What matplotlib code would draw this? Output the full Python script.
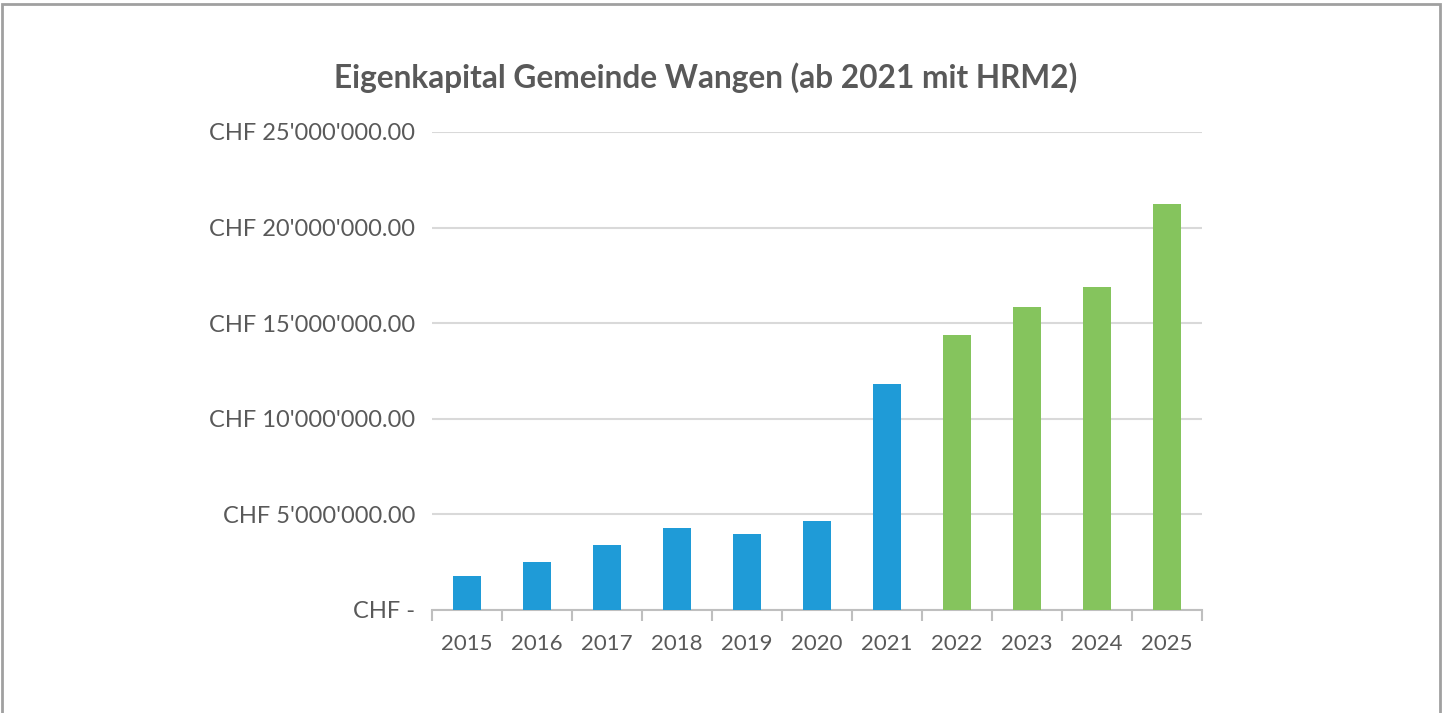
import matplotlib.pyplot as plt
import matplotlib.patches as patches
from matplotlib.ticker import FuncFormatter
import numpy as np

# -----------------------------
# Data
# -----------------------------
jahre = ["2015", "2016", "2017", "2018", "2019", "2020", "2021",
         "2022", "2023", "2024", "2025"]
eigenkapital = [1780000, 2510000, 3400000, 4290000, 3970000, 4650000,
                11820000, 14380000, 15850000, 16890000, 21230000]
farben = ["#1F9BD7"] * 7 + ["#85C45D"] * 4
y_ticks = [0, 5000000, 10000000, 15000000, 20000000, 25000000]

plt.rcParams["font.family"] = ["Lato", "DejaVu Sans"]


def chf(v, pos=None):
    if v == 0:
        return "CHF -"
    s = f"{v:,.2f}".replace(",", "'")
    return "CHF " + s


# -----------------------------
# Figure
# -----------------------------
fig = plt.figure(figsize=(14.48, 7.13), dpi=100)
ax = fig.add_axes([432 / 1448, 103 / 713, 770 / 1448, 478 / 713])

x = np.arange(len(jahre))
ax.bar(x, eigenkapital, width=0.4, color=farben, zorder=3)

ax.set_xlim(-0.5, len(jahre) - 0.5)
ax.set_ylim(0, 25000000)
ax.set_yticks(y_ticks)
ax.yaxis.set_major_formatter(FuncFormatter(chf))
ax.set_xticks(x)
ax.set_xticklabels(jahre)
ax.set_xticks(np.arange(-0.5, len(jahre), 1), minor=True)

ax.grid(axis="y", color="#D9D9D9", linewidth=1.5, zorder=0)
for s in ["top", "right", "left"]:
    ax.spines[s].set_visible(False)
ax.spines["bottom"].set_color("#BFBFBF")
ax.spines["bottom"].set_linewidth(1.5)

ax.tick_params(axis="y", length=0, pad=12, labelsize=17, labelcolor="#595959")
ax.tick_params(axis="x", which="major", length=0, pad=17, labelsize=16,
               labelcolor="#595959")
ax.tick_params(axis="x", which="minor", length=8, width=1.5, color="#BFBFBF")

fig.text(706 / 1448, 1 - 78 / 713, "Eigenkapital Gemeinde Wangen (ab 2021 mit HRM2)",
         ha="center", va="center", fontsize=22.8, fontweight="bold",
         color="#595959")

# Rahmen
rahmen = patches.Rectangle((2 / 1448, -0.02), 1438 / 1448, 1.02 - 4 / 713,
                           transform=fig.transFigure, fill=False,
                           edgecolor="#A0A0A0", linewidth=2)
fig.patches.append(rahmen)

fig.savefig("out.png", dpi=100, facecolor="white")
